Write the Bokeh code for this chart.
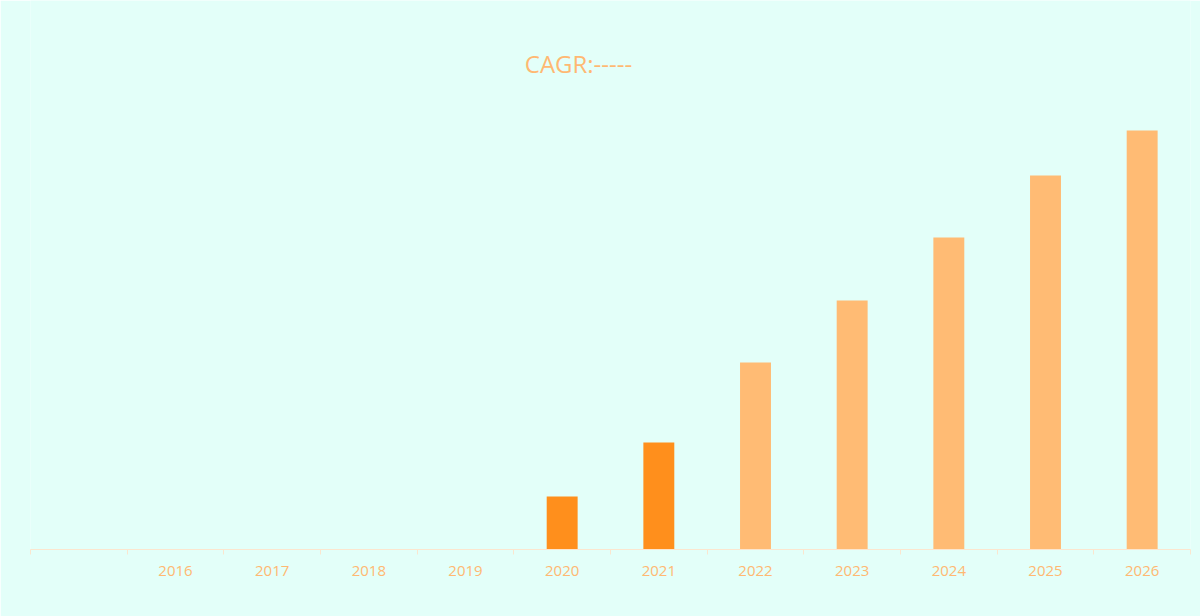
from bokeh.plotting import figure
from bokeh.models import ColumnDataSource, Range1d, FixedTicker, Label
from bokeh.embed import file_html
from bokeh.resources import INLINE

# ---- data ----
years = ["2016", "2017", "2018", "2019", "2020", "2021", "2022", "2023", "2024", "2025", "2026"]
values = [0, 0, 0, 0, 5.3, 10.7, 18.7, 24.9, 31.2, 37.4, 41.9]
is_forecast = [False, False, False, False, False, False, True, True, True, True, True]
title_text = "CAGR:-----"

BG = "#E3FFF9"
DARK = "#FF8F1C"
LIGHT = "#FFBB74"
TEXT = "#FFB872"
AXIS = "#FBE6CF"

# leading empty slot before the first year
positions = [i + 1 for i in range(len(years))]
colors = [LIGHT if f else DARK for f in is_forecast]

src = ColumnDataSource(dict(x=positions, top=values, color=colors))

n_slots = len(years) + 1
p = figure(width=1200, height=616, output_backend="svg", toolbar_location=None,
           x_range=Range1d(-0.5, n_slots - 0.5), y_range=Range1d(0, 54.9),
           y_axis_location=None, min_border_left=30, min_border_right=10,
           min_border_top=0, min_border_bottom=67)

p.background_fill_color = BG
p.border_fill_color = BG
p.outline_line_color = None
p.grid.visible = False

p.vbar(x="x", top="top", width=0.32, bottom=0, fill_color="color",
       line_color=None, source=src)

ax = p.xaxis[0]
ax.ticker = FixedTicker(ticks=positions,
                        minor_ticks=[i - 0.5 for i in range(n_slots + 1)])
ax.major_label_overrides = {pos: y for pos, y in zip(positions, years)}
ax.major_tick_line_color = None
ax.major_tick_out = 0
ax.major_tick_in = 0
ax.minor_tick_line_color = AXIS
ax.minor_tick_out = 5
ax.minor_tick_in = 0
ax.axis_line_color = AXIS
ax.major_label_text_color = TEXT
ax.major_label_text_font = "Open Sans"
ax.major_label_text_font_size = "15px"
ax.major_label_standoff = 11

p.add_layout(Label(x=548, y=486, x_units="screen", y_units="screen",
                   text=title_text, text_align="center", text_baseline="middle",
                   text_color=TEXT, text_font="Open Sans", text_font_size="24px"))

open("out.html", "w").write(file_html(p, INLINE))
